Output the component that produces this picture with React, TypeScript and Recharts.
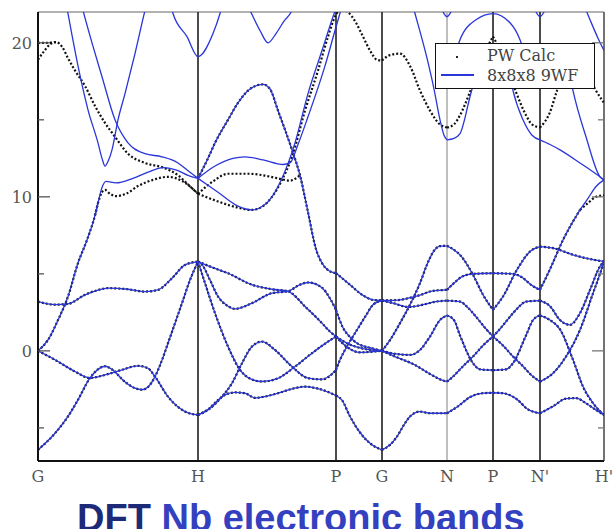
import { LineChart, Line, XAxis, YAxis, ReferenceLine } from "recharts";

type Pt = [number, number];

// path through the BZ: G-H-P-G-N-P-N'-H' (k in path units)
const kPoints = [0, 160, 298, 344, 409, 455, 502, 566];
const kLabels = ["G", "H", "P", "G", "N", "P", "N'", "H'"];
const yTicks = [-5, 0, 5, 10, 15, 20];
const yLabelled = [0, 10, 20];
const E_MIN = -7.15;
const E_MAX = 22;
const PLOT_W = 566;

// bands where the plane-wave and Wannier results coincide
const sharedGH: Pt[][] = [
  [[0, -6.43], [17, -5.35], [30, -4.26], [40, -3.18], [52, -1.76], [60, -1.2], [67, -1.0], [75, -1.25], [85, -1.9], [97, -2.42], [104, -2.52], [110, -2.35], [117, -1.67], [124, -0.6], [130, 0.5], [144, 3.1], [152, 4.6], [160, 5.8]],
  [[0, 0], [17, -0.58], [37, -1.34], [52, -1.76], [67, -1.56], [84, -1.23], [100, -0.97], [110, -1.13], [117, -1.67], [130, -2.97], [147, -3.94], [160, -4.16]],
  [[0, 0], [10, 0.71], [20, 2.0], [30, 3.53], [40, 5.7], [49, 7.2], [57, 8.8], [60, 9.6]],
  [[0, 3.2], [17, 3.0], [30, 3.05], [47, 3.64], [60, 3.95], [70, 4.07], [90, 4.0], [107, 3.85], [120, 3.96], [134, 4.72], [147, 5.58], [160, 5.8]],
];

const sharedHP: Pt[][] = [
  [[160, 5.8], [175, 5.4], [190, 5.04], [214, 4.29], [234, 4.0], [250, 3.87], [267, 2.88], [284, 1.8], [292, 1.25], [298, 0.93]],
  [[160, 5.8], [164, 5.6], [172, 4.6], [180, 3.53], [190, 2.9], [197, 2.73], [214, 3.1], [234, 3.75], [250, 3.87], [262, 4.3], [270, 4.44], [284, 4.1], [292, 3.4], [298, 2.66]],
  [[160, 5.8], [166, 4.6], [177, 2.45], [190, 0.28], [202, -1.23], [212, -1.8], [224, -1.99], [240, -1.78], [257, -1.02], [274, -0.15], [290, 0.6], [298, 0.93]],
  [[160, -4.16], [170, -3.83], [184, -2.97], [194, -2.1], [204, -0.8], [214, 0.28], [224, 0.6], [237, 0.06], [254, -1.02], [270, -1.77], [284, -1.85], [298, -1.25]],
  [[160, -4.16], [170, -3.8], [180, -3.2], [187, -2.86], [197, -2.7], [207, -2.75], [217, -3.05], [228, -2.95], [240, -2.75], [255, -2.45], [267, -2.32], [280, -2.45], [293, -2.75], [298, -2.9]],
  [[160, 11.2], [170, 12.5], [177, 13.5], [190, 15.0], [200, 16.1], [212, 17.0], [225, 17.3], [232, 17.0], [240, 15.6], [254, 13.05], [262, 11.4], [270, 9.0], [278, 6.6], [284, 5.7], [291, 5.2], [298, 5.05]],
];

const sharedPG: Pt[][] = [
  [[298, 5.05], [312, 4.29], [325, 3.6], [335, 3.31], [344, 3.27]],
  [[298, 2.66], [305, 1.5], [312, 0.9], [319, 0.5], [335, 0.15], [344, 0]],
  [[298, 0.93], [312, 0.4], [325, 0.15], [344, 0]],
  [[298, 0.93], [308, 0.3], [322, -0.1], [335, -0.05], [344, 0]],
  [[298, -1.25], [302, -0.58], [310, 0.4], [319, 1.36], [328, 2.3], [335, 2.99], [344, 3.27]],
  [[298, -2.9], [304, -3.2], [312, -4.26], [322, -5.3], [332, -6.0], [344, -6.43]],
];

const sharedGN: Pt[][] = [
  [[344, 3.27], [360, 3.3], [372, 3.45], [382, 3.62], [395, 3.9], [409, 3.96]],
  [[344, 3.27], [355, 3.1], [370, 2.85], [385, 3.0], [398, 3.2], [409, 3.26]],
  [[344, 0], [352, 0.7], [362, 1.8], [372, 3.0], [382, 4.4], [389, 5.6], [395, 6.4], [402, 6.8], [409, 6.82]],
  [[344, 0], [358, -0.2], [372, -0.26], [382, 0.06], [392, 0.93], [402, 2.0], [409, 2.3]],
  [[344, 0], [358, -0.4], [375, -0.85], [392, -1.5], [402, -1.85], [409, -2.0]],
  [[344, -6.43], [352, -6.1], [359, -5.56], [366, -4.8], [372, -4.26], [382, -3.94], [392, -4.05], [409, -4.05]],
];

const sharedNP: Pt[][] = [
  [[409, 6.82], [415, 6.6], [422, 6.23], [435, 4.94], [445, 3.64], [455, 2.66]],
  [[409, 3.96], [416, 4.4], [425, 4.85], [435, 5.0], [455, 5.04]],
  [[409, 3.26], [422, 3.2], [430, 2.8], [439, 2.14], [447, 1.5], [455, 0.93]],
  [[409, 2.3], [416, 2.0], [422, 1.0], [435, -0.8], [442, -1.2], [455, -1.25]],
  [[409, -2.0], [415, -1.67], [425, -1.0], [435, -0.37], [445, 0.35], [455, 0.93]],
  [[409, -4.05], [420, -3.6], [432, -3.0], [445, -2.75], [455, -2.72]],
];

const sharedPN: Pt[][] = [
  [[455, 2.66], [465, 3.53], [479, 5.27], [492, 6.45], [502, 6.77]],
  [[455, 5.04], [475, 5.0], [482, 4.85], [495, 4.2], [502, 3.96]],
  [[455, 0.93], [463, 1.5], [471, 2.14], [480, 2.8], [488, 3.2], [502, 3.26]],
  [[455, -1.25], [468, -1.2], [475, -0.8], [488, 1.0], [495, 2.0], [502, 2.3]],
  [[455, 0.93], [465, 0.35], [475, -0.37], [485, -1.0], [495, -1.67], [502, -2.0]],
  [[455, -2.72], [465, -2.75], [478, -3.1], [490, -3.8], [502, -4.05]],
];

const sharedNH: Pt[][] = [
  [[502, 6.77], [515, 6.67], [535, 6.24], [555, 5.92], [566, 5.8]],
  [[502, 3.96], [512, 5.3], [525, 7.2], [542, 9.15]],
  [[502, 3.26], [512, 2.9], [522, 2.0], [532, 1.69], [542, 2.45], [552, 3.96], [562, 5.48], [566, 5.8]],
  [[502, 2.3], [512, 2.0], [522, 1.4], [535, -0.58], [545, -2.32], [555, -3.4], [566, -4.16]],
  [[502, -2.0], [515, -1.45], [528, -0.37], [542, 1.36], [555, 3.74], [562, 5.0], [566, 5.8]],
  [[502, -4.05], [515, -3.6], [528, -3.1], [538, -3.07], [548, -3.4], [557, -3.8], [566, -4.16]],
];

// plane-wave only (upper conduction bands)
const pwUpper: Pt[][] = [
  [[0, 20.0], [8, 20.0], [14, 20.02], [18, 20.05]],
  [[0, 18.9], [6, 19.45], [12, 19.9], [18, 20.05], [24, 19.75], [30, 19.0], [37, 18.2], [47, 17.2], [57, 15.9], [67, 14.8], [77, 13.9], [90, 12.8], [107, 12.2], [125, 11.9], [140, 11.4], [150, 10.8], [160, 10.2]],
  [[57, 8.8], [60, 9.6], [64, 10.3], [67, 10.45], [72, 10.2], [78, 10.05], [88, 10.2], [100, 10.7], [115, 11.1], [130, 11.3], [145, 11.0], [160, 10.2]],
  [[160, 10.2], [175, 11.0], [190, 11.5], [210, 11.5], [225, 11.4], [240, 11.2], [252, 11.05], [262, 11.4]],
  [[160, 10.2], [180, 9.7], [200, 9.3], [214, 9.15], [225, 9.4], [234, 10.0], [244, 11.1], [254, 12.6], [267, 15.6], [280, 18.2], [290, 20.4], [297, 21.7], [304, 22.2], [310, 22.0], [318, 21.3], [325, 20.4], [332, 19.5], [339, 18.9], [344, 18.85]],
  [[344, 18.85], [352, 19.2], [362, 19.3], [372, 18.5], [382, 16.9], [392, 15.6], [402, 14.7], [409, 14.5]],
  [[409, 14.5], [416, 14.7], [422, 15.3], [432, 16.8], [442, 18.5], [450, 19.8], [455, 20.4]],
  [[455, 20.4], [460, 19.8], [468, 18.5], [478, 16.8], [488, 15.3], [494, 14.7], [502, 14.5]],
  [[502, 14.5], [512, 15.5], [519, 16.9], [530, 18.5], [545, 18.5], [557, 17.0], [566, 16.1]],
  [[542, 9.15], [550, 9.6], [558, 10.0], [566, 10.1]],
];

// 8x8x8 Wannier interpolation only (upper conduction bands)
const wfUpper: Pt[][] = [
  [[57, 8.8], [60, 9.6], [64, 10.6], [68, 11.0], [78, 10.9], [95, 11.2], [110, 11.6], [125, 11.9], [140, 11.7], [150, 11.4], [160, 11.2]],
  [[28, 22.6], [34, 20.5], [40, 18.5], [50, 15.65], [60, 13.5], [64, 12.5], [67, 12.0], [70, 12.3], [74, 13.05], [80, 15.0], [87, 16.7], [97, 19.3], [107, 22.1], [109, 22.6]],
  [[43, 22.6], [45, 22.1], [54, 20.0], [64, 17.8], [77, 15.0], [90, 13.5], [107, 12.8], [124, 12.6], [140, 12.2], [150, 11.7], [160, 11.2]],
  [[132, 22.6], [135, 21.9], [149, 20.4], [160, 19.1], [175, 20.6], [182, 21.9], [185, 22.6]],
  [[160, 11.2], [180, 10.3], [200, 9.4], [214, 9.15], [225, 9.4], [234, 10.0], [244, 11.2], [257, 13.5], [270, 16.7], [284, 19.5], [294, 21.5], [300, 22.6]],
  [[160, 11.2], [177, 12.0], [195, 12.5], [207, 12.6], [225, 12.4], [245, 12.1], [252, 12.2], [260, 13.4], [270, 15.2], [287, 18.5], [297, 20.8], [305, 22.6]],
  [[208, 22.6], [212, 22.1], [222, 20.8], [230, 20.0], [238, 20.6], [246, 21.4], [254, 22.1], [257, 22.6]],
  [[374, 22.6], [377, 21.9], [389, 19.0], [396, 17.0], [402, 15.0], [406, 14.0], [409, 13.7]],
  [[400, 22.6], [405, 22.0], [409, 21.7], [413, 22.0], [418, 22.6]],
  [[409, 13.7], [416, 13.8], [422, 14.1], [432, 16.5], [440, 18.5]],
  [[412, 18.0], [422, 20.2], [438, 21.5], [455, 21.9], [472, 21.3], [482, 20.2], [492, 18.0]],
  [[470, 18.5], [475, 16.9], [485, 15.0], [494, 14.0], [502, 13.7]],
  [[494, 22.6], [498, 22.0], [502, 21.7], [506, 22.0], [510, 22.6]],
  [[502, 13.7], [512, 13.4], [522, 13.05], [542, 12.2], [562, 11.3], [566, 11.1]],
  [[530, 18.5], [535, 16.9], [548, 13.9], [562, 11.3], [566, 11.1]],
  [[542, 9.15], [550, 9.9], [558, 10.67], [566, 11.1]],
  [[545, 22.6], [552, 21.5], [560, 20.3], [566, 19.5]],
];

const shared = [...sharedGH, ...sharedHP, ...sharedPG, ...sharedGN, ...sharedNP, ...sharedPN, ...sharedNH];
const pwBands = [...shared, ...pwUpper];
const wfBands = [...shared, ...wfUpper];

const rows = (b: Pt[]) => b.map(([k, e]) => ({ k, e }));

const SERIF = "'DejaVu Serif', serif";
const BLUE = "#2a36d8";

function EnergyTick(props: any) {
  const { x, y, payload } = props;
  const v = payload.value as number;
  const major = yLabelled.includes(v);
  const ax = x + 6;
  const len = major ? 12 : 6;
  return (
    <g>
      <line x1={ax} x2={ax + len} y1={y} y2={y} stroke="#555" strokeWidth={1.3} />
      <line x1={ax + PLOT_W - len} x2={ax + PLOT_W} y1={y} y2={y} stroke="#777" strokeWidth={1.3} />
      {major && (
        <text x={x} y={y} dy={6} textAnchor="end" fontFamily={SERIF} fontSize={16} fill="#555">
          {v}
        </text>
      )}
    </g>
  );
}

function KTick(props: any) {
  const { x, y, payload } = props;
  const i = kPoints.indexOf(payload.value);
  return (
    <text x={x} y={y} dy={13} textAnchor="middle" fontFamily={SERIF} fontSize={16} fill="#555">
      {kLabels[i]}
    </text>
  );
}

export default function App() {
  return (
    <div style={{ position: "absolute", left: 0, top: 0, width: 616, height: 529, background: "#fff", overflow: "hidden" }}>
      <LineChart width={616} height={529} margin={{ top: 12, right: 12, bottom: 38, left: 0 }}>
        <XAxis
          dataKey="k"
          type="number"
          domain={[0, PLOT_W]}
          allowDataOverflow
          ticks={kPoints}
          tick={<KTick />}
          tickLine={false}
          tickSize={0}
          tickMargin={8}
          height={30}
          axisLine={{ stroke: "#111", strokeWidth: 2 }}
          interval={0}
        />
        <YAxis
          type="number"
          domain={[E_MIN, E_MAX]}
          allowDataOverflow
          ticks={yTicks}
          tick={<EnergyTick />}
          tickLine={false}
          tickSize={0}
          tickMargin={6}
          width={38}
          axisLine={{ stroke: "#111", strokeWidth: 2 }}
          interval={0}
        />
        <ReferenceLine y={E_MAX} stroke="#999" strokeWidth={1.5} />
        <ReferenceLine x={PLOT_W} stroke="#444" strokeWidth={1.5} />
        {kPoints.slice(1, -1).map((k, i) => (
          <ReferenceLine key={"v" + i} x={k} stroke={kLabels[i + 1] === "N" ? "#aaa" : "#111"} strokeWidth={1.5} />
        ))}
        {pwBands.map((b, i) => (
          <Line
            key={"pw" + i}
            data={rows(b)}
            dataKey="e"
            type="monotone"
            stroke="#111"
            strokeWidth={2.2}
            strokeDasharray="2 2"
            dot={false}
            activeDot={false}
            isAnimationActive={false}
          />
        ))}
        {wfBands.map((b, i) => (
          <Line
            key={"wf" + i}
            data={rows(b)}
            dataKey="e"
            type="monotone"
            stroke={BLUE}
            strokeWidth={1.3}
            dot={false}
            activeDot={false}
            isAnimationActive={false}
          />
        ))}
      </LineChart>

      <div
        style={{
          position: "absolute", left: 435, top: 43, width: 160, height: 46, boxSizing: "border-box",
          border: "1.5px solid #111", background: "#fff", fontFamily: SERIF, fontSize: 16, color: "#444",
        }}
      >
        <div style={{ position: "absolute", left: 20, top: 12, width: 2, height: 2, background: "#222" }} />
        <div style={{ position: "absolute", left: 51, top: 3, lineHeight: "18px" }}>PW Calc</div>
        <div style={{ position: "absolute", left: 5, top: 30, width: 33, height: 1.5, background: BLUE }} />
        <div style={{ position: "absolute", left: 51, top: 23, lineHeight: "18px" }}>8x8x8 9WF</div>
      </div>

      <div
        style={{
          position: "absolute", left: 77, top: 499, fontFamily: "'Liberation Sans', Arial, sans-serif",
          fontWeight: "bold", fontSize: 38, lineHeight: "38px", whiteSpace: "nowrap", color: "#3340c0",
        }}
      >
        <span style={{ color: "#1c2a78" }}>DFT</span> Nb electronic bands
      </div>
    </div>
  );
}
